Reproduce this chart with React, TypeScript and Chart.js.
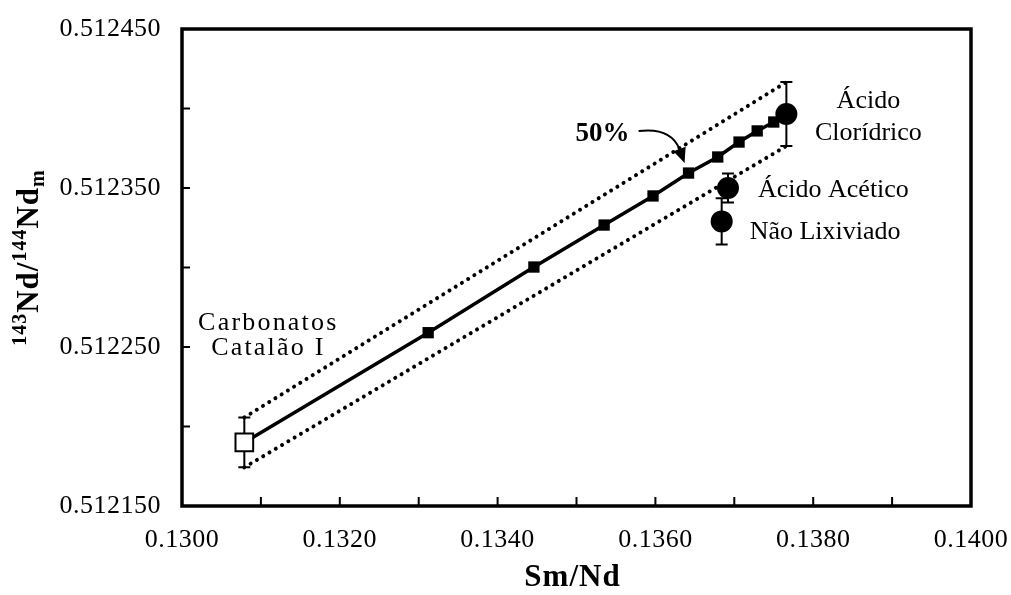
import React, { useEffect, useRef } from 'react';
import { Chart, registerables } from 'chart.js';

Chart.register(...registerables);

// ---- data ----
const xMin = 0.13;
const xMax = 0.14;
const xStep = 0.001;
const yMin = 0.51215;
const yMax = 0.51245;
const yStep = 0.00005;

const endMemberLabel = ['Carbonatos', 'Catalão I'];
const endMemberSmNd = 0.13079;
const endMemberNd = 0.51219;
const endMemberErr = 0.0000157;

const sampleNames = ['Ácido Clorídrico', 'Ácido Acético', 'Não Lixiviado'];
const sampleSmNd = [0.13766, 0.13692, 0.13684];
const sampleNd = [0.5123965, 0.51235, 0.512329];
const sampleErr = [0.0000201, 0.0000091, 0.0000145];

const mixSmNd = [0.13312, 0.13446, 0.13535, 0.13597, 0.13642, 0.13679, 0.13706, 0.13729, 0.1375];
const mixNd = [0.512259, 0.5123003, 0.5123267, 0.512345, 0.5123594, 0.5123695, 0.5123789, 0.5123859, 0.5123915];
const mixMarkLabel = '50%';
const mixMarkIndex = 4;

const xTitle = 'Sm/Nd';

const FONT = "'Liberation Serif', 'Times New Roman', serif";

export default function App() {
  const ref = useRef<HTMLCanvasElement | null>(null);

  useEffect(() => {
    if (!ref.current) return;

    const mixData = [
      { x: endMemberSmNd, y: endMemberNd },
      ...mixSmNd.map((x, i) => ({ x, y: mixNd[i] })),
      { x: sampleSmNd[0], y: sampleNd[0] },
    ];
    const lastMix = mixData.length - 1;

    const errItems: [number, number, number][] = [
      [endMemberSmNd, endMemberNd, endMemberErr],
      ...sampleSmNd.map((x, i) => [x, sampleNd[i], sampleErr[i]] as [number, number, number]),
    ];

    const text = (ctx: CanvasRenderingContext2D, t: string, x: number, y: number, size: number, opts: any = {}) => {
      ctx.font = `${opts.bold ? 'bold ' : ''}${size}px ${FONT}`;
      (ctx as any).letterSpacing = opts.ls ? `${opts.ls}px` : '0px';
      ctx.textAlign = opts.align || 'left';
      ctx.textBaseline = 'alphabetic';
      ctx.fillStyle = '#000';
      ctx.fillText(t, x, y);
    };

    const overlay = {
      id: 'overlay',
      beforeDraw(chart: any) {
        chart.ctx.letterSpacing = '0.5px';
      },
      beforeDatasetsDraw(chart: any) {
        const { ctx, scales } = chart;
        const xs = scales.x;
        const ys = scales.y;
        ctx.save();
        ctx.strokeStyle = '#000';
        ctx.lineWidth = 2;
        errItems.forEach(([vx, vy, e]) => {
          const cx = xs.getPixelForValue(vx);
          const yt = ys.getPixelForValue(vy + e);
          const yb = ys.getPixelForValue(vy - e);
          ctx.beginPath();
          ctx.moveTo(cx, yt);
          ctx.lineTo(cx, yb);
          ctx.moveTo(cx - 6, yt);
          ctx.lineTo(cx + 6, yt);
          ctx.moveTo(cx - 6, yb);
          ctx.lineTo(cx + 6, yb);
          ctx.stroke();
        });
        ctx.restore();
      },
      afterDraw(chart: any) {
        const { ctx, chartArea: a, scales } = chart;
        const xs = scales.x;
        const ys = scales.y;
        ctx.save();
        // frame
        ctx.strokeStyle = '#000';
        ctx.lineWidth = 3.5;
        ctx.strokeRect(a.left, a.top, a.right - a.left, a.bottom - a.top);
        // inner ticks
        ctx.lineWidth = 2;
        ctx.beginPath();
        xs.ticks.forEach((t: any) => {
          const px = xs.getPixelForValue(t.value);
          ctx.moveTo(px, a.bottom);
          ctx.lineTo(px, a.bottom - 9);
        });
        ys.ticks.forEach((t: any) => {
          const py = ys.getPixelForValue(t.value);
          ctx.moveTo(a.left, py);
          ctx.lineTo(a.left + 8, py);
        });
        ctx.stroke();

        // labels next to points
        const px = (v: number) => xs.getPixelForValue(v);
        const py = (v: number) => ys.getPixelForValue(v);
        const c0x = px(sampleSmNd[0]);
        const c0y = py(sampleNd[0]);
        const [w1, w2] = sampleNames[0].split(' ');
        text(ctx, w1, c0x + 82, c0y - 6, 26, { align: 'center' });
        text(ctx, w2, c0x + 82, c0y + 26, 26, { align: 'center' });
        text(ctx, sampleNames[1], px(sampleSmNd[1]) + 30, py(sampleNd[1]) + 9, 26);
        text(ctx, sampleNames[2], px(sampleSmNd[2]) + 28, py(sampleNd[2]) + 18, 26);
        const ex = px(endMemberSmNd);
        const ey = py(endMemberNd);
        text(ctx, endMemberLabel[0], ex + 24, ey - 112, 26, { align: 'center', ls: 2.2 });
        text(ctx, endMemberLabel[1], ex + 24, ey - 87, 26, { align: 'center', ls: 2.2 });

        // 50% label and arrow
        const mx = px(mixSmNd[mixMarkIndex]);
        const my = py(mixNd[mixMarkIndex]);
        text(ctx, mixMarkLabel, mx - 113, my - 32, 27, { bold: true });
        ctx.lineWidth = 2;
        ctx.beginPath();
        ctx.moveTo(mx - 50, my - 42);
        ctx.quadraticCurveTo(mx - 18, my - 46, mx - 9, my - 24);
        ctx.stroke();
        const tipX = mx - 4, tipY = my - 10;
        const bx = mx - 9, by = my - 24;
        const dx = tipX - bx, dy = tipY - by;
        const len = Math.hypot(dx, dy);
        const nx = dy / len, ny = -dx / len;
        ctx.beginPath();
        ctx.moveTo(tipX, tipY);
        ctx.lineTo(bx + nx * 6.5, by + ny * 6.5);
        ctx.lineTo(bx - nx * 6.5, by - ny * 6.5);
        ctx.closePath();
        ctx.fill();

        // x title
        text(ctx, xTitle, (a.left + a.right) / 2 - 4, 586, 31, { bold: true, align: 'center', ls: 1 });

        // y title with super/subscripts
        const segs = [
          { t: '143', s: 20, dy: -12 },
          { t: 'Nd/', s: 31, dy: 0 },
          { t: '144', s: 20, dy: -12 },
          { t: 'Nd', s: 31, dy: 0 },
          { t: 'm', s: 20, dy: 6 },
        ];
        const ls = 1;
        ctx.save();
        (ctx as any).letterSpacing = `${ls}px`;
        let total = 0;
        segs.forEach((sg) => {
          ctx.font = `bold ${sg.s}px ${FONT}`;
          total += ctx.measureText(sg.t).width;
        });
        ctx.translate(38, (a.top + a.bottom) / 2 - 10);
        ctx.rotate(-Math.PI / 2);
        let cx = -total / 2;
        ctx.textAlign = 'left';
        ctx.textBaseline = 'alphabetic';
        ctx.fillStyle = '#000';
        segs.forEach((sg) => {
          ctx.font = `bold ${sg.s}px ${FONT}`;
          ctx.fillText(sg.t, cx, sg.dy);
          cx += ctx.measureText(sg.t).width;
        });
        ctx.restore();

        ctx.restore();
      },
    };

    const chart = new Chart(ref.current, {
      type: 'scatter',
      data: {
        datasets: [
          {
            label: 'samples',
            data: sampleSmNd.map((x, i) => ({ x, y: sampleNd[i] })),
            pointStyle: 'circle',
            pointRadius: 11,
            backgroundColor: '#000',
            borderColor: '#000',
            borderWidth: 0,
            showLine: false,
          },
          {
            label: 'end member',
            data: [{ x: endMemberSmNd, y: endMemberNd }],
            pointStyle: 'rect',
            pointRadius: 12.5,
            backgroundColor: '#fff',
            borderColor: '#000',
            borderWidth: 2,
            showLine: false,
          },
          {
            label: 'mixing',
            data: mixData,
            showLine: true,
            borderColor: '#000',
            borderWidth: 3.5,
            pointStyle: 'rect',
            pointRadius: (c: any) => (c.dataIndex === 0 || c.dataIndex === lastMix ? 0 : 8),
            backgroundColor: '#000',
            pointBorderWidth: 0,
          },
          {
            label: 'upper',
            data: [
              { x: endMemberSmNd, y: endMemberNd + endMemberErr },
              { x: sampleSmNd[0], y: sampleNd[0] + sampleErr[0] },
            ],
            showLine: true,
            borderColor: '#000',
            borderWidth: 4,
            borderDash: [0.01, 7.3],
            borderCapStyle: 'round',
            pointRadius: 0,
          },
          {
            label: 'lower',
            data: [
              { x: endMemberSmNd, y: endMemberNd - endMemberErr },
              { x: sampleSmNd[0], y: sampleNd[0] - sampleErr[0] },
            ],
            showLine: true,
            borderColor: '#000',
            borderWidth: 4,
            borderDash: [0.01, 7.3],
            borderCapStyle: 'round',
            pointRadius: 0,
          },
        ] as any,
      },
      options: {
        animation: false,
        responsive: false,
        devicePixelRatio: 1,
        events: [],
        layout: { padding: { left: 0, top: 29, right: 40, bottom: 0 } },
        plugins: { legend: { display: false }, tooltip: { enabled: false }, title: { display: false } },
        scales: {
          x: {
            type: 'linear',
            min: xMin,
            max: xMax,
            grid: { display: false, drawTicks: false },
            border: { display: false },
            afterFit: (s: any) => {
              s.height = 89;
              s.paddingLeft = 0;
              s.paddingRight = 0;
              s.paddingTop = 0;
              s.paddingBottom = 0;
            },
            ticks: {
              stepSize: xStep,
              padding: 19,
              color: '#000',
              font: { family: FONT, size: 26 },
              maxRotation: 0,
              autoSkip: false,
              callback: (v: any, i: number) => (i % 2 === 0 ? Number(v).toFixed(4) : ''),
            },
          },
          y: {
            type: 'linear',
            min: yMin,
            max: yMax,
            grid: { display: false, drawTicks: false },
            border: { display: false },
            afterFit: (s: any) => {
              s.width = 182;
              s.paddingLeft = 0;
              s.paddingRight = 0;
              s.paddingTop = 0;
              s.paddingBottom = 0;
            },
            ticks: {
              stepSize: yStep,
              padding: 21,
              color: '#000',
              font: { family: FONT, size: 26 },
              autoSkip: false,
              callback: (v: any, i: number) => (i % 2 === 0 ? Number(v).toFixed(6) : ''),
            },
          },
        },
      } as any,
      plugins: [overlay],
    });

    return () => chart.destroy();
  }, []);

  return (
    <div style={{ position: 'fixed', left: 0, top: 0, width: 1011, height: 595, background: '#fff' }}>
      <canvas ref={ref} width={1011} height={595} style={{ display: 'block' }} />
    </div>
  );
}
